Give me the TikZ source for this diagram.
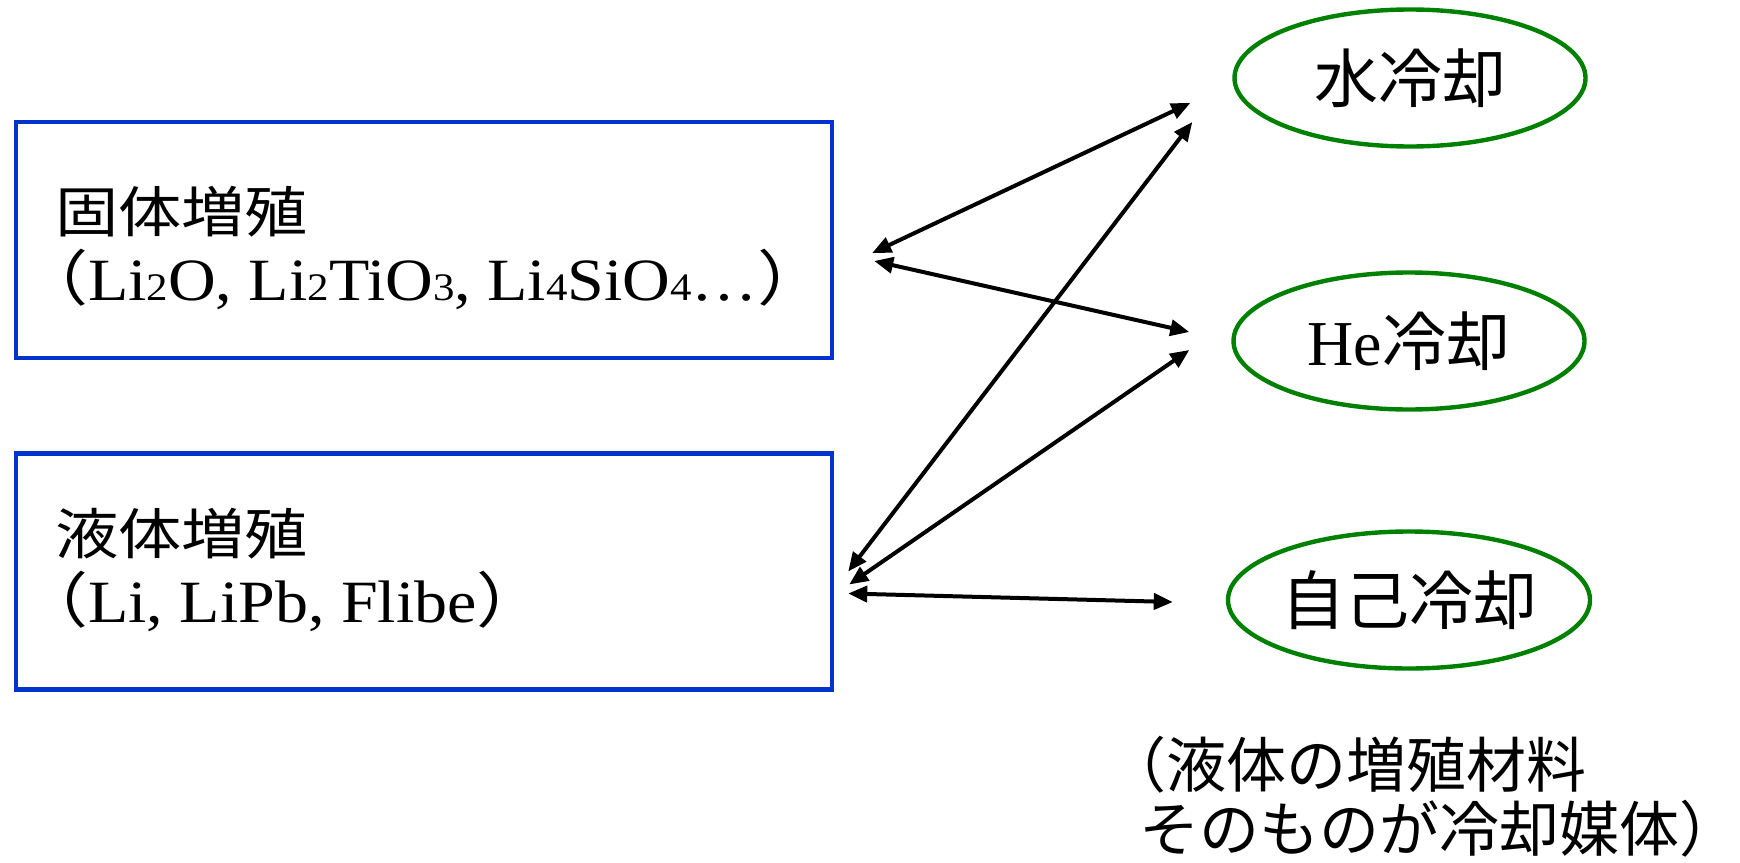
\documentclass[tikz,border=0pt]{standalone}
\usepackage{fontspec}
\setmainfont{Liberation Serif}
\newfontfamily\jp{Noto Sans CJK JP}
\newfontfamily\jpwide[FakeStretch=1.15]{Noto Sans CJK JP}
\newfontfamily\rmwide[FakeStretch=1.1]{Liberation Serif}
\usepackage{tikz}
\usetikzlibrary{arrows.meta,positioning,calc,shapes.geometric}
\definecolor{boxblue}{RGB}{0,51,204}
\definecolor{coolgreen}{RGB}{0,128,0}
\newcommand{\subn}[1]{{\fontsize{19.5pt}{19.5pt}\selectfont#1}}
\newcommand{\brtitle}[1]{{\jpwide\fontsize{27.5pt}{34pt}\selectfont#1}}

\begin{document}
\begin{tikzpicture}[
  x=0.5pt, y=-0.5pt,
  breeder/.style={draw=boxblue, line width=2.2pt, minimum width=408pt,
    minimum height=118pt, inner sep=0pt},
  brtext/.style={align=left, inner sep=0pt, anchor=north west,
    font=\rmwide\fontsize{30pt}{34pt}\selectfont},
  coolant/.style={ellipse, draw=coolgreen, line width=2.2pt, minimum width=175.5pt,
    minimum height=68.5pt, inner sep=0pt, font=\fontsize{32pt}{34pt}\selectfont},
  link/.style={{Triangle[length=9.5pt,width=8pt]}-{Triangle[length=9.5pt,width=8pt]},
    line width=2pt}
]
\useasboundingbox (0,0) rectangle (1740,862);
\node[breeder] (solid) at (424,240) {};
\node[brtext] (solidtext) at ([shift={(41,-54)}]solid.west) {\brtitle{固体増殖}\\
  {\jpwide\hspace*{-.6em}（}Li\subn{2}O, Li\subn{2}TiO\subn{3}, Li\subn{4}SiO\subn{4}…{\jpwide ）}};
\node[breeder] (liquid) at (424,571.5) {};
\node[brtext] (liquidtext) at ([shift={(41,-63.5)}]liquid.west) {\brtitle{液体増殖}\\
  {\jpwide\hspace*{-.6em}（}Li, LiPb, Flibe{\jpwide ）}};
\node[coolant] (water) at (1410,78) {\jp 水冷却};
\node[coolant] (helium) at (1409,341) {He\jp 冷却};
\node[coolant] (selfcool) at (1409,600) {\jp 自己冷却};
\node[align=left, inner sep=0pt, anchor=north west,
  font=\jp\fontsize{30pt}{32pt}\selectfont] (note) at (1106,736)
  {（液体の増殖材料\\\hspace*{.55em}そのものが冷却媒体）};
\draw[link] ([shift={(38,13)}]solid.east) -- ([shift={(-42,25)}]water.west);
\draw[link] ([shift={(40,21)}]solid.east) -- ([shift={(-42,-9)}]helium.west);
\draw[link] ([shift={(14,0)}]liquid.east) -- ([shift={(-40,44)}]water.west);
\draw[link] ([shift={(15,13)}]liquid.east) -- ([shift={(-42,9)}]helium.west);
\draw[link] ([shift={(14,22)}]liquid.east) -- ([shift={(-53,2)}]selfcool.west);
\end{tikzpicture}
\end{document}
